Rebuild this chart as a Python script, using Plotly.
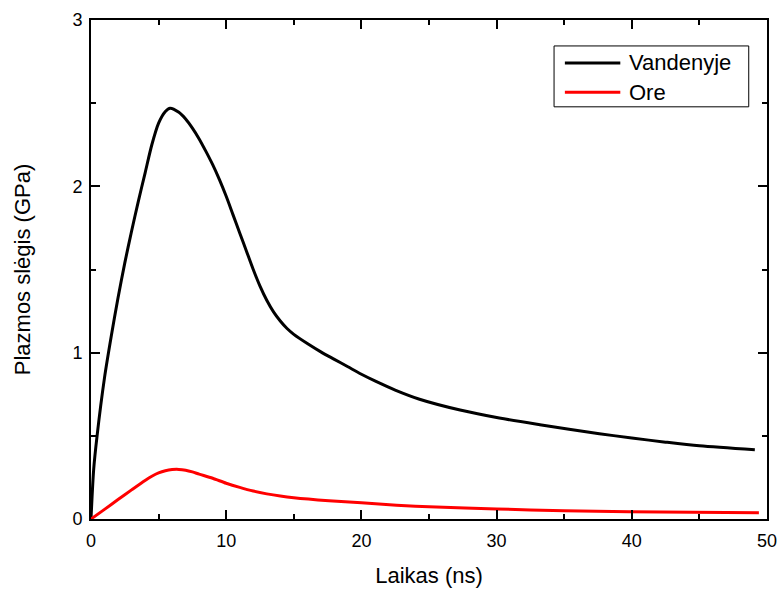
import plotly.graph_objects as go

# Plasma pressure vs time, water and air
t_water = [0, 0.2, 0.45, 1.0, 1.5, 2.0, 2.5, 3.0, 3.5, 4.0, 4.5, 5.0, 5.5, 5.85,
           6.5, 7.0, 7.5, 8.0, 8.5, 9.0, 9.5, 10.0, 10.5, 11.0, 11.5, 12.0, 12.5,
           13.0, 13.5, 14.0, 14.5, 15.0, 16.0, 17.0, 18.0, 19.0, 20.0, 21.0, 22.5,
           24.3, 27.3, 30.2, 33.2, 37.6, 40.0, 42.5, 45.0, 49.1]
p_water = [0, 0.3, 0.5, 0.85, 1.1, 1.33, 1.54, 1.73, 1.91, 2.08, 2.25, 2.38, 2.45, 2.47,
           2.445, 2.405, 2.35, 2.285, 2.21, 2.13, 2.04, 1.94, 1.83, 1.72, 1.61, 1.50, 1.40,
           1.315, 1.245, 1.19, 1.145, 1.11, 1.055, 1.005, 0.96, 0.915, 0.87, 0.83, 0.775,
           0.72, 0.655, 0.607, 0.567, 0.513, 0.487, 0.462, 0.44, 0.416]

t_air = [0, 1, 2, 3, 4, 4.5, 5, 5.5, 6, 6.5, 7, 7.5, 8, 9, 10, 11, 12, 13, 14, 15,
         17.6, 20, 22.6, 25, 30, 35, 39.8, 44.5, 49.4]
p_air = [0, 0.058, 0.117, 0.175, 0.232, 0.257, 0.277, 0.29, 0.297, 0.298, 0.293, 0.283,
         0.27, 0.245, 0.215, 0.19, 0.168, 0.151, 0.138, 0.128, 0.11, 0.097, 0.083, 0.073,
         0.06, 0.05, 0.044, 0.04, 0.037]

series_names = ["Vandenyje", "Ore"]
series_colors = ["black", "#ff0000"]

x_ticks = [0, 10, 20, 30, 40, 50]
y_ticks = [0, 1, 2, 3]

font_family = "Liberation Sans, Arial, sans-serif"

fig = go.Figure()
for name, color, xs, ys in zip(series_names, series_colors, [t_water, t_air], [p_water, p_air]):
    fig.add_trace(go.Scatter(x=xs, y=ys, mode="lines", name=name, showlegend=False,
                             line=dict(color=color, width=3, shape="spline", smoothing=0.8)))

axis_common = dict(
    showgrid=False, zeroline=False, automargin=False,
    showline=True, linecolor="black", linewidth=2, mirror="ticks",
    ticks="inside", ticklen=9, tickwidth=2, tickcolor="black",
    tickfont=dict(family=font_family, size=18, color="black"),
)

fig.update_xaxes(
    range=[0, 50], tickvals=x_ticks, ticktext=[str(v) for v in x_ticks],
    minor=dict(ticks="inside", ticklen=5, tickwidth=2, tickcolor="black", dtick=5, tick0=0),
    ticklabelstandoff=4,
    title=dict(text="Laikas (ns)", font=dict(family=font_family, size=22, color="black"), standoff=18),
    **axis_common,
)
fig.update_yaxes(
    range=[0, 3], tickvals=y_ticks, ticktext=[str(v) for v in y_ticks],
    minor=dict(ticks="inside", ticklen=5, tickwidth=2, tickcolor="black", dtick=0.5, tick0=0),
    ticklabelstandoff=3,
    title=dict(text="Plazmos slėgis (GPa)", font=dict(family=font_family, size=22, color="black"), standoff=36),
    **axis_common,
)

# Legend drawn as a framed box with line samples and labels (paper coordinates)
legend_box = dict(x0=0.685, x1=0.973, y0=0.826, y1=0.948)
legend_rows_y = [0.914, 0.855]
legend_line_x = (0.701, 0.783)
legend_text_x = 0.793

shapes = [dict(type="rect", xref="paper", yref="paper", line=dict(color="black", width=1),
               fillcolor="white", layer="above", **legend_box)]
annotations = []
for name, color, yy in zip(series_names, series_colors, legend_rows_y):
    shapes.append(dict(type="line", xref="paper", yref="paper", layer="above",
                       x0=legend_line_x[0], x1=legend_line_x[1], y0=yy, y1=yy,
                       line=dict(color=color, width=3)))
    annotations.append(dict(text=name, xref="paper", yref="paper", x=legend_text_x, y=yy,
                            xanchor="left", yanchor="middle", showarrow=False,
                            font=dict(family=font_family, size=22, color="black")))

fig.update_layout(
    width=779, height=590,
    margin=dict(l=91, r=12, t=20, b=71),
    paper_bgcolor="white", plot_bgcolor="white",
    font=dict(family=font_family, color="black"),
    shapes=shapes, annotations=annotations,
    showlegend=False,
)

fig.write_html("out.html")
